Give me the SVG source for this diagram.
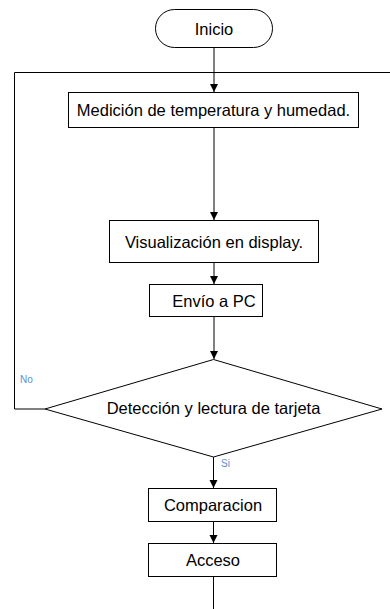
<svg xmlns="http://www.w3.org/2000/svg" width="390" height="609" viewBox="0 0 390 609">
<defs>
<style>
.box{fill:#fff;stroke:#000;stroke-width:1}
.t{font-family:"Liberation Sans",Arial,sans-serif;font-size:16.5px;fill:#000;text-anchor:middle;dominant-baseline:central}
.lbl{font-family:"Liberation Sans",Arial,sans-serif;font-size:10px;fill:#5b8fd6}
.ln{fill:none;stroke:#000;stroke-width:1}
</style>
<marker id="arr" viewBox="0 0 8 10" refX="8" refY="5" markerWidth="8" markerHeight="10" markerUnits="userSpaceOnUse" orient="auto">
<path d="M0,1 L8,5 L0,9 z" fill="#000"/>
</marker>
</defs>
<rect width="390" height="609" fill="#fff"/>
<g id="connectors">
<line class="ln" x1="214" y1="48" x2="214" y2="92" marker-end="url(#arr)"/>
<polyline class="ln" points="45,409 14.5,409 14.5,72.5 390,72.5"/>
<line class="ln" x1="214" y1="128" x2="214" y2="220" marker-end="url(#arr)"/>
<line class="ln" x1="214" y1="263" x2="214" y2="284" marker-end="url(#arr)"/>
<line class="ln" x1="214" y1="317" x2="214" y2="359" marker-end="url(#arr)"/>
<line class="ln" x1="213.5" y1="457" x2="213.5" y2="488" marker-end="url(#arr)"/>
<line class="ln" x1="213.5" y1="522" x2="213.5" y2="543" marker-end="url(#arr)"/>
<line class="ln" x1="213.5" y1="577" x2="213.5" y2="609"/>
<text class="lbl" x="20" y="383">No</text>
<text class="lbl" x="221" y="467">Si</text>
</g>
<g id="inicio">
<rect class="box" x="155.5" y="9.5" width="117" height="38" rx="19" ry="19"/>
<text class="t" x="214" y="28.5">Inicio</text>
</g>
<g id="medicion">
<rect class="box" x="68.5" y="92.5" width="290" height="35"/>
<text class="t" x="213.5" y="110">Medición de temperatura y humedad.</text>
</g>
<g id="visualizacion">
<rect class="box" x="109.5" y="220.5" width="209" height="42"/>
<text class="t" x="214" y="241.5">Visualización en display.</text>
</g>
<g id="envio">
<rect class="box" x="149.5" y="284.5" width="113" height="32"/>
<text class="t" x="214" y="300.5">Envío a PC</text>
</g>
<g id="deteccion">
<polygon class="box" points="213.5,359.5 382,409 213.5,457 45,409"/>
<text class="t" x="213.5" y="408">Detección y lectura de tarjeta</text>
</g>
<g id="comparacion">
<rect class="box" x="148.5" y="488.5" width="128" height="33"/>
<text class="t" x="213" y="505">Comparacion</text>
</g>
<g id="acceso">
<rect class="box" x="148.5" y="543.5" width="128" height="33"/>
<text class="t" x="213" y="560">Acceso</text>
</g>
</svg>
